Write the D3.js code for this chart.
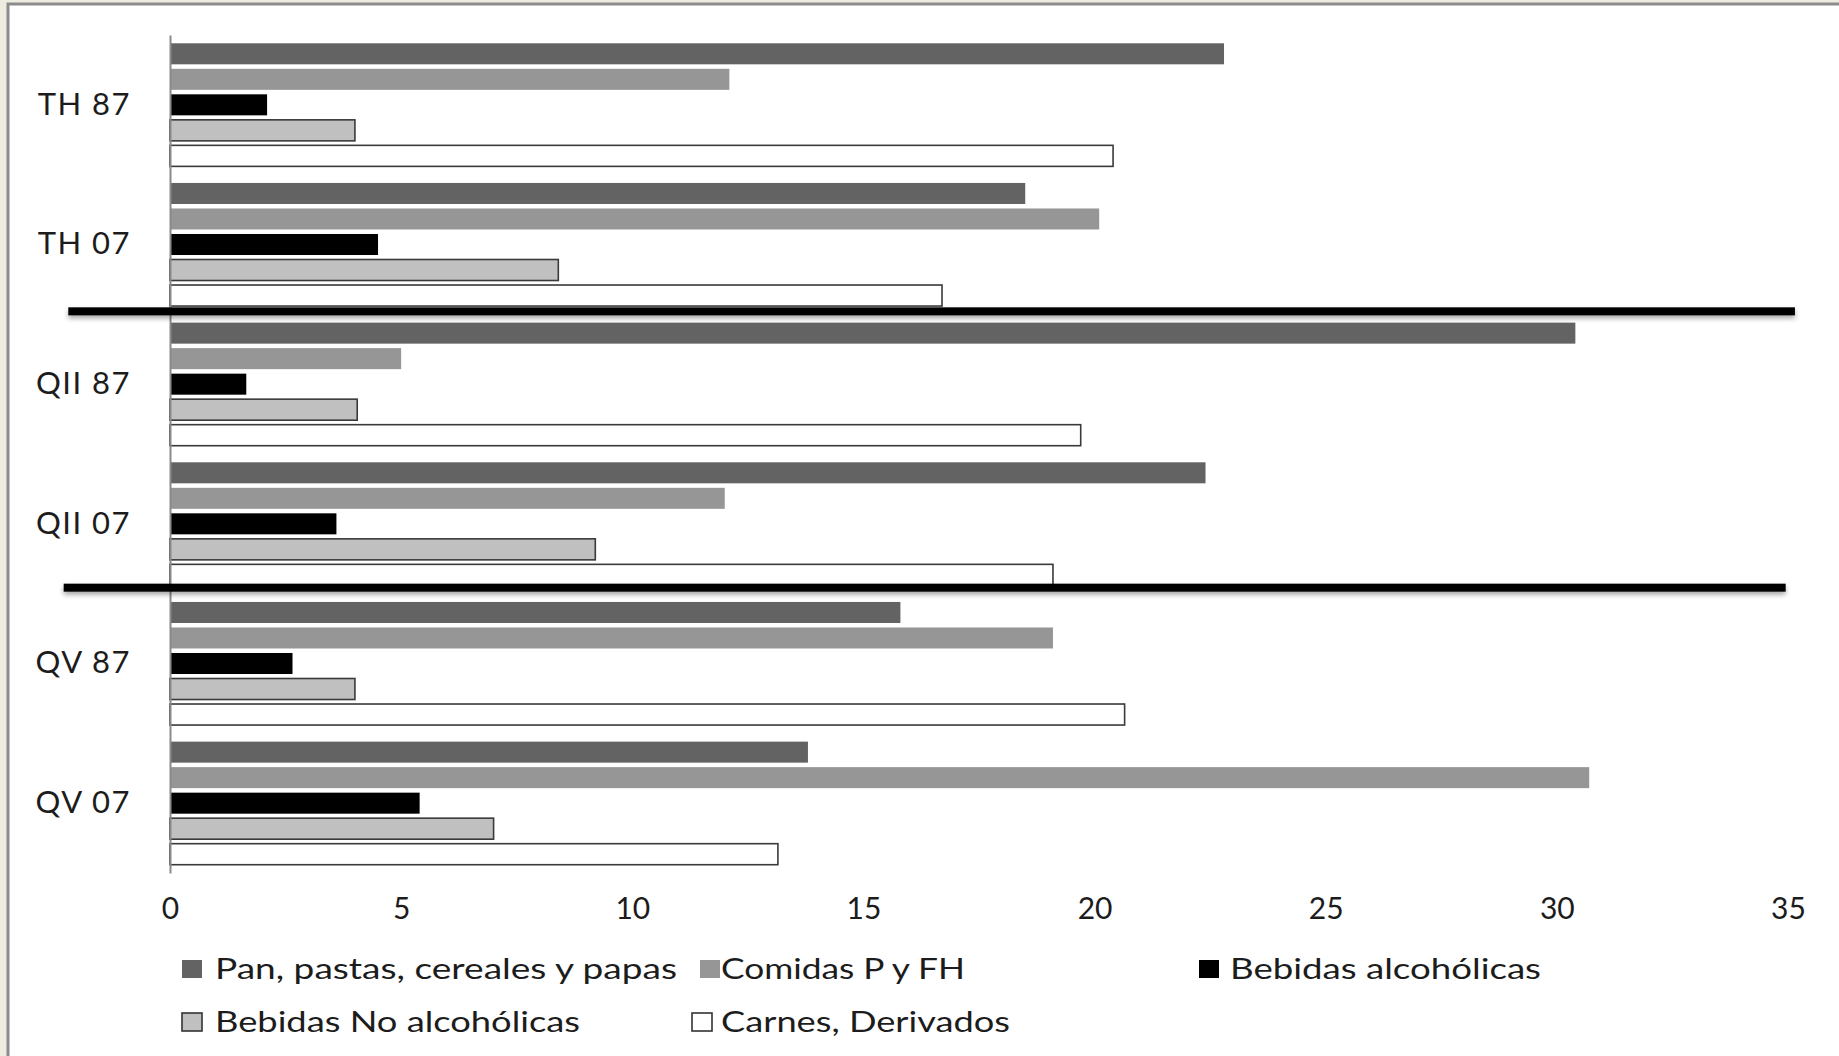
<!DOCTYPE html>
<html>
<head>
<meta charset="utf-8">
<script src="https://cdn.jsdelivr.net/npm/d3@7"></script>
<style>
  html, body { margin: 0; padding: 0; background: #eeebe1; }
  svg { display: block; }
  text { font-family: Lato, "Open Sans", sans-serif; fill: #1c1c1c; }
</style>
</head>
<body>
<svg id="chart" width="1839" height="1056"></svg>
<script>
// Groups (top to bottom) and food series
const groups = ["TH 87", "TH 07", "QII 87", "QII 07", "QV 87", "QV 07"];
const series = ["Pan, pastas, cereales y papas", "Comidas P y FH", "Bebidas alcohólicas",
                "Bebidas No alcohólicas", "Carnes, Derivados"];

// One array per series, values in group order
const pan      = [22.8, 18.5, 30.4, 22.4, 15.8, 13.8];
const comidas  = [12.1, 20.1,  5.0, 12.0, 19.1, 30.7];
const alcohol  = [ 2.1,  4.5,  1.65, 3.6,  2.65, 5.4];
const noAlc    = [ 4.0,  8.4,  4.05, 9.2,  4.0,  7.0];
const carnes   = [20.4, 16.7, 19.7, 19.1, 20.65, 13.15];

const xTicks = [0, 5, 10, 15, 20, 25, 30, 35];

const seriesValues = [pan, comidas, alcohol, noAlc, carnes];
const fills   = ["#636363", "#969696", "#000000", "#c0c0c0", "#ffffff"];
const strokes = ["none", "none", "none", "#3a3a3a", "#3a3a3a"];

const rows = groups.map((g, gi) => ({
  group: g,
  bars: series.map((s, si) => ({ series: s, si, value: seriesValues[si][gi] }))
}));

const svg = d3.select("#chart");

// panel frame
svg.append("rect").attr("x", 8).attr("y", 4).attr("width", 1860).attr("height", 1080)
  .attr("fill", "#ffffff").attr("stroke", "#8c8c8c").attr("stroke-width", 3);

const defs = svg.append("defs");
const sh = defs.append("filter").attr("id", "shadow")
  .attr("filterUnits", "userSpaceOnUse")
  .attr("x", 0).attr("y", 0).attr("width", 1839).attr("height", 1056);
sh.append("feDropShadow").attr("dx", 0).attr("dy", 3).attr("stdDeviation", 2.5)
  .attr("flood-color", "#000").attr("flood-opacity", 0.35);

const x = d3.scaleLinear().domain([0, 35]).range([170, 1788]);
const y0 = d3.scaleBand().domain(groups).range([35, 873]).padding(0);
const y1 = d3.scaleBand().domain(series).range([0, y0.bandwidth()])
  .paddingInner(0.176).paddingOuter(0.325);

// bars
const g = svg.append("g");
const grp = g.selectAll("g.grp").data(rows).join("g")
  .attr("class", "grp")
  .attr("transform", d => `translate(0,${y0(d.group)})`);

grp.selectAll("rect").data(d => d.bars).join("rect")
  .attr("x", x(0))
  .attr("y", d => y1(d.series))
  .attr("width", d => x(d.value) - x(0))
  .attr("height", y1.bandwidth())
  .attr("fill", d => fills[d.si])
  .attr("stroke", d => strokes[d.si])
  .attr("stroke-width", 1.6);

// category axis
const yAxis = svg.append("g").attr("transform", `translate(${x(0)},0)`)
  .call(d3.axisLeft(y0).tickSize(0).tickPadding(39));
yAxis.select(".domain").attr("stroke", "#8a8a8a").attr("stroke-width", 2);
yAxis.selectAll("text").style("font-size", "31px").style("font-family", "Lato, sans-serif")
  .style("letter-spacing", "1.5px")
  .attr("fill", "#1c1c1c");

// value axis (labels only)
const xAxis = svg.append("g").attr("transform", `translate(0,${y0.range()[1]})`)
  .call(d3.axisBottom(x).tickValues(xTicks).tickSize(0).tickPadding(25).tickFormat(d3.format("d")));
xAxis.select(".domain").remove();
xAxis.selectAll("text").style("font-size", "30px").style("font-family", "Lato, sans-serif")
  .attr("fill", "#1c1c1c");

// thick separators between the TH / QII / QV pairs
const dividers = [
  { after: "TH 07",  from: -2.2, to: 35.15, lift: 3 },
  { after: "QII 07", from: -2.3, to: 34.95, lift: 6 }
];
svg.append("g").selectAll("rect").data(dividers).join("rect")
  .attr("x", d => x(d.from))
  .attr("width", d => x(d.to) - x(d.from))
  .attr("y", d => y0(d.after) + y0.bandwidth() - d.lift - 4)
  .attr("height", 8)
  .attr("fill", "#000").attr("filter", "url(#shadow)");

// legend
const legendLayout = [
  { x: 182, tx: 215, y: 969, w: 462 },
  { x: 700, tx: 721, y: 969, w: 244 },
  { x: 1199, tx: 1230, y: 969, w: 311 },
  { x: 182, tx: 215, y: 1022, w: 365 },
  { x: 692, tx: 721, y: 1022, w: 289 }
];
const leg = svg.append("g").selectAll("g").data(series).join("g");
leg.append("rect")
  .attr("x", (d, i) => legendLayout[i].x)
  .attr("y", (d, i) => legendLayout[i].y - 9)
  .attr("width", 20).attr("height", 18)
  .attr("fill", (d, i) => fills[i])
  .attr("stroke", (d, i) => strokes[i] === "none" ? "none" : "#333")
  .attr("stroke-width", 1.6);
leg.append("text")
  .attr("x", (d, i) => legendLayout[i].tx)
  .attr("y", (d, i) => legendLayout[i].y)
  .attr("dy", "0.36em")
  .attr("textLength", (d, i) => legendLayout[i].w)
  .attr("lengthAdjust", "spacingAndGlyphs")
  .style("font-size", "28px")
  .text(d => d);
</script>
</body>
</html>
